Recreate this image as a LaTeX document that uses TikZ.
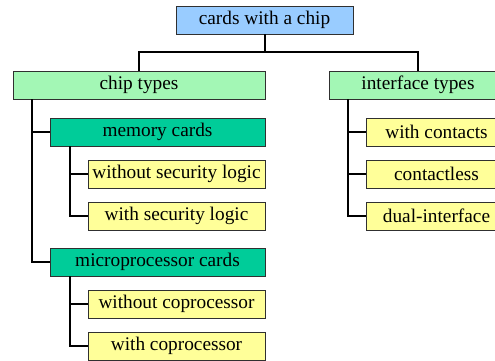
\documentclass[tikz,border=0pt]{standalone}
\usepackage{fontspec}
\setmainfont{Liberation Serif}
\definecolor{topblue}{HTML}{99CCFF}
\definecolor{lgreen}{HTML}{A3F7B5}
\definecolor{teal2}{HTML}{00CC99}
\definecolor{lyellow}{HTML}{FFFF99}
\definecolor{edge}{HTML}{303030}
\begin{document}
\begin{tikzpicture}[x=1pt,y=-1pt,
  box/.style={draw=edge,line width=0.9pt,minimum height=28pt,inner sep=0pt,
    font=\rmfamily\fontsize{19.3}{22}\selectfont,text=black},
  topbox/.style={box,fill=topblue,minimum width=177pt},
  grpbox/.style={box,fill=lgreen},
  catbox/.style={box,fill=teal2,minimum width=215pt},
  leafbox/.style={box,fill=lyellow,minimum width=177pt},
  rleafbox/.style={box,fill=lyellow,minimum width=141pt},
  conn/.style={draw=black,line width=2pt}]
\useasboundingbox (0,0) rectangle (495,360);
\clip (0,0) rectangle (495,360);
\node[topbox] (top) at (264.5,20) {cards with a chip};
\node[grpbox,minimum width=252pt] (chip) at (139,85) {chip types};
\node[grpbox,minimum width=178pt] (iface) at (418,85) {interface types};
\node[catbox] (mem) at (157.5,132) {memory cards};
\node[leafbox] (wosl) at (176.5,174) {without security logic};
\node[leafbox] (wsl) at (176.5,216) {with security logic};
\node[catbox] (micro) at (157.5,262) {microprocessor cards};
\node[leafbox] (wocp) at (176.5,304) {without coprocessor};
\node[leafbox] (wcp) at (176.5,346) {with coprocessor};
\node[rleafbox] (wc) at (436.5,132) {with contacts};
\node[rleafbox] (cl) at (436.5,174) {contactless};
\node[rleafbox] (di) at (436.5,216) {dual-interface};
\coordinate (split) at ([yshift=-18pt]top.south);
\coordinate (chipx) at ([xshift=19pt]chip.south west);
\coordinate (memx) at ([xshift=20pt]mem.south west);
\coordinate (microx) at ([xshift=20pt]micro.south west);
\coordinate (ifacex) at ([xshift=19pt]iface.south west);
\draw[conn] (top.south) -- (split);
\draw[conn] (split) -| (chip.north);
\draw[conn] (split) -| (iface.north);
\draw[conn] (chipx) |- (mem.west);
\draw[conn] (chipx) |- (micro.west);
\draw[conn] (memx) |- (wosl.west);
\draw[conn] (memx) |- (wsl.west);
\draw[conn] (microx) |- (wocp.west);
\draw[conn] (microx) |- (wcp.west);
\draw[conn] (ifacex) |- (wc.west);
\draw[conn] (ifacex) |- (cl.west);
\draw[conn] (ifacex) |- (di.west);
\end{tikzpicture}
\end{document}
